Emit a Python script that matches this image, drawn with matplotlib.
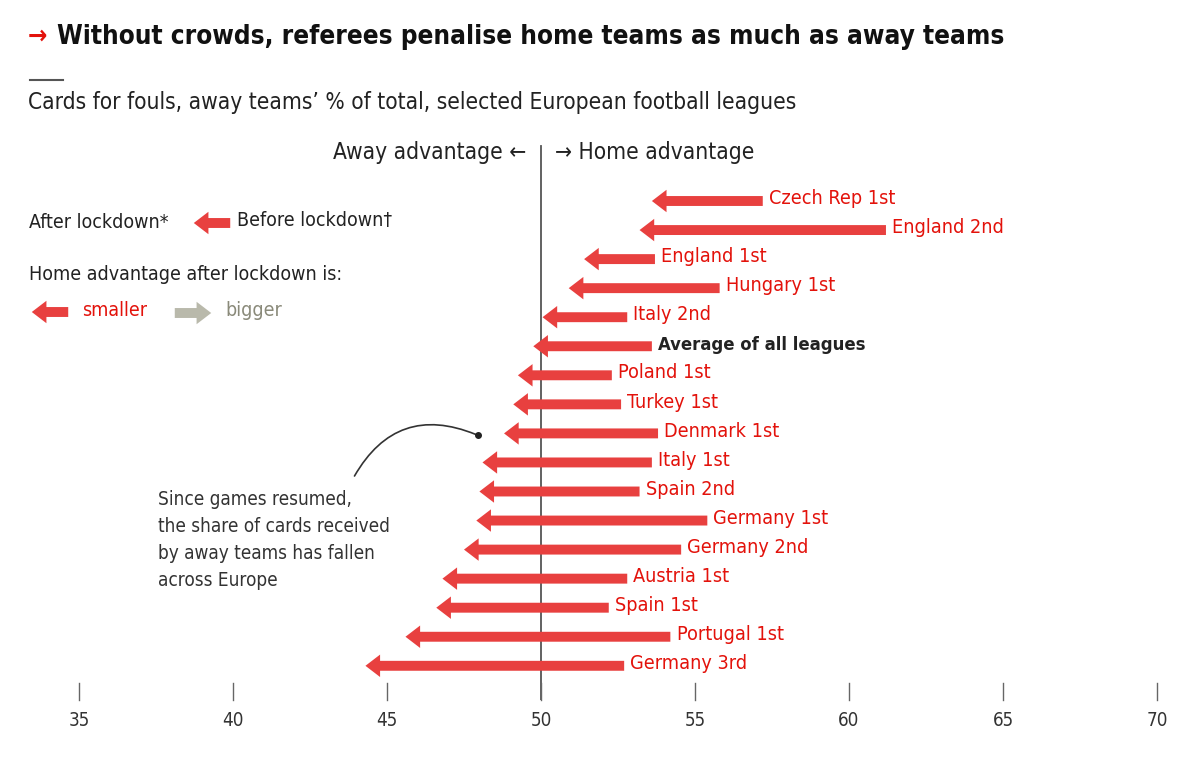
import matplotlib.pyplot as plt
from matplotlib.patches import FancyArrowPatch

leagues = ["Czech Rep 1st", "England 2nd", "England 1st", "Hungary 1st", "Italy 2nd",
           "Average of all leagues", "Poland 1st", "Turkey 1st", "Denmark 1st", "Italy 1st",
           "Spain 2nd", "Germany 1st", "Germany 2nd", "Austria 1st", "Spain 1st",
           "Portugal 1st", "Germany 3rd"]
before = [57.2, 61.2, 53.7, 55.8, 52.8, 53.6, 52.3, 52.6, 53.8, 53.6,
          53.2, 55.4, 54.55, 52.8, 52.2, 54.2, 52.7]
after = [53.6, 53.2, 51.4, 50.9, 50.05, 49.75, 49.25, 49.1, 48.8, 48.1,
         48.0, 47.9, 47.5, 46.8, 46.6, 45.6, 44.3]
ticks = [35, 40, 45, 50, 55, 60, 65, 70]

RED = "#e8403f"
TXT_RED = "#e3120b"
DARK = "#222222"
GREY_ARROW = "#b9b9ab"
GREY_TXT = "#8a8a7a"

plt.rcParams['font.family'] = ['DejaVu Sans']
plt.rcParams['font.stretch'] = 'condensed'

W, H = 1200, 762
fig = plt.figure(figsize=(12, 7.62), dpi=100)

# axes: x 35..70 spans px 79..1157, y from px 140 (top) to 700 (bottom)
ax = fig.add_axes([79 / W, (H - 700) / H, (1157 - 79) / W, (700 - 140) / H])
ax.set_xlim(35, 70)
row0, step = 201, 29.05
ax.set_ylim((700 - row0) / step, (140 - row0) / step)
ax.axis("off")
ax.axvline(50, ymin=0, ymax=0.99, color="#555555", lw=1.3, zorder=1)

style = "simple,tail_width=0.42,head_width=0.95,head_length=0.62"
for i, (name, b, a) in enumerate(zip(leagues, before, after)):
    arr = FancyArrowPatch((b, i), (a, i), arrowstyle=style, mutation_scale=17,
                          color=RED, shrinkA=0, shrinkB=0, lw=0, zorder=3)
    ax.add_patch(arr)
    if name.startswith("Average"):
        ax.text(b + 0.2, i - 0.05, name, color=DARK, fontsize=13.2, fontweight="bold",
                va="center", ha="left")
    else:
        ax.text(b + 0.2, i - 0.08, name, color=TXT_RED, fontsize=14.2,
                va="center", ha="left")

# bottom ticks
for t in ticks:
    ax.plot([t, t], [(683 - row0) / step, (700 - row0) / step], color="#666666",
            lw=1.0, clip_on=False)
    ax.text(t, (720 - row0) / step, str(t), ha="center", va="center",
            fontsize=13.5, color="#333333")

# annotation curve
ann = FancyArrowPatch((43.9, 9.55), (47.96, 8.07), arrowstyle="-",
                      connectionstyle="arc3,rad=-0.45", color="#333333", lw=1.2)
ax.add_patch(ann)
ax.plot(47.96, 8.07, "o", color="#222222", ms=4)
ax.text(37.55, (540 - row0) / step,
        "Since games resumed,\nthe share of cards received\nby away teams has fallen\nacross Europe",
        ha="left", va="center", fontsize=13.6, color="#333333", linespacing=1.55)

# titles
def ftext(x, y, s, **kw):
    fig.text(x / W, 1 - y / H, s, **kw)

ftext(28, 37, "→", color=TXT_RED, fontsize=18.5, fontweight="bold", va="center")
ftext(57, 37, "Without crowds, referees penalise home teams as much as away teams",
      color="#111111", fontsize=18.7, fontweight="bold", va="center")
fig.add_artist(plt.Line2D([30 / W, 63 / W], [1 - 80 / H, 1 - 80 / H], color="#555555", lw=1.5))
ftext(28, 102, "Cards for fouls, away teams’ % of total, selected European football leagues",
      color="#222222", fontsize=16.3, va="center")
ftext(526, 153, "Away advantage ←", color="#222222", fontsize=16.3, va="center", ha="right")
ftext(555, 153, "→ Home advantage", color="#222222", fontsize=16.3, va="center", ha="left")

# legend
ftext(29, 222, "After lockdown*", color="#222222", fontsize=14, va="center")
ftext(237, 220, "Before lockdown†", color="#222222", fontsize=14, va="center")
fig.add_artist(FancyArrowPatch((233 / W, 1 - 223 / H), (191 / W, 1 - 223 / H),
                               transform=fig.transFigure, arrowstyle=style,
                               mutation_scale=17, color=RED, lw=0))
ftext(29, 275, "Home advantage after lockdown is:", color="#222222", fontsize=14, va="center")
fig.add_artist(FancyArrowPatch((71 / W, 1 - 312 / H), (29 / W, 1 - 312 / H),
                               transform=fig.transFigure, arrowstyle=style,
                               mutation_scale=17, color=RED, lw=0))
ftext(82, 310, "smaller", color=TXT_RED, fontsize=14, va="center")
fig.add_artist(FancyArrowPatch((172 / W, 1 - 313 / H), (214 / W, 1 - 313 / H),
                               transform=fig.transFigure, arrowstyle=style,
                               mutation_scale=17, color=GREY_ARROW, lw=0))
ftext(225, 310, "bigger", color=GREY_TXT, fontsize=14, va="center")

fig.savefig("out.png", dpi=100, facecolor="white")
